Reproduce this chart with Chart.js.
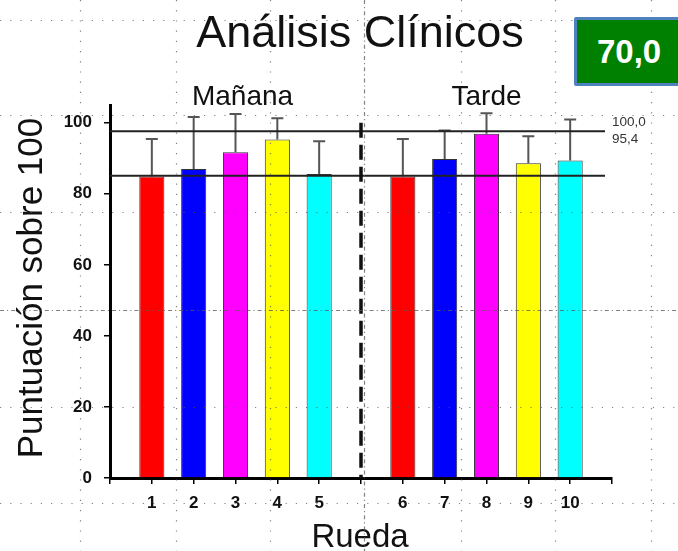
<!DOCTYPE html>
<html lang="es">
<head>
    <meta charset="UTF-8">
    <title>Análisis Clínicos</title>
    <script src="https://cdn.jsdelivr.net/npm/chart.js"></script>
    <style>
        body { margin: 0; background: #fff; }
        #wrap { position: relative; width: 678px; height: 551px; overflow: hidden; }
        #score {
            position: absolute; left: 574px; top: 17px; width: 110px; height: 63px;
            background: #008000; border: 3px solid #4f81bd; border-radius: 2px;
            color: #fff; font: bold 33px "Liberation Sans", Arial, sans-serif;
            line-height: 63px; padding-left: 20px; box-sizing: content-box;
        }
    </style>
</head>
<body>
<div id="wrap">
    <canvas id="chart" width="678" height="551"></canvas>
    <div id="score">70,0</div>
</div>
<script>
    // Ruedas 1-5 (mañana) y 6-10 (tarde)
    const ruedas = ['1', '2', '3', '4', '5', '6', '7', '8', '9', '10'];
    const mediaManana = [84.9, 87.0, 91.7, 95.3, 85.6];
    const mediaTarde = [84.9, 89.8, 96.9, 88.6, 89.4];
    const desvManana = [10.5, 14.6, 10.8, 6.0, 9.2];
    const desvTarde = [10.5, 8.0, 5.8, 7.6, 11.5];
    const colores = ['#ff0000', '#0000ff', '#ff00ff', '#ffff00', '#00ffff'];
    const lineasRef = [97.6, 85.1];
    const etiquetasRef = ['100,0', '95,4'];
    const valoresEtiquetasRef = [100.0, 95.4];
    const ticksY = [0, 20, 40, 60, 80, 100];

    const FONT = '"Liberation Sans", Arial, sans-serif';

    // empty slot at each end and one between the two sessions
    const labels = [''].concat(ruedas.slice(0, 5), [''], ruedas.slice(5), ['']);
    const medias = [null].concat(mediaManana, [null], mediaTarde, [null]);
    const desv = [null].concat(desvManana, [null], desvTarde, [null]);
    const fondo = [null].concat(colores, [null], colores, [null]);
    const SEP = 6; // index of the separator slot

    const extras = {
        id: 'extras',
        afterDatasetsDraw(chart) {
            const ctx = chart.ctx;
            const x = chart.scales.x, y = chart.scales.y;
            const area = chart.chartArea;
            const meta = chart.getDatasetMeta(0);
            ctx.save();

            // error bars
            ctx.strokeStyle = '#555';
            ctx.lineWidth = 2;
            meta.data.forEach((bar, i) => {
                if (medias[i] == null) return;
                const y0 = y.getPixelForValue(medias[i]);
                const y1 = y.getPixelForValue(medias[i] + desv[i]);
                ctx.beginPath();
                ctx.moveTo(bar.x, y0);
                ctx.lineTo(bar.x, y1);
                ctx.moveTo(bar.x - 6, y1);
                ctx.lineTo(bar.x + 6, y1);
                ctx.stroke();
            });

            // reference lines
            ctx.strokeStyle = '#222';
            ctx.lineWidth = 2;
            lineasRef.forEach(v => {
                const py = y.getPixelForValue(v);
                ctx.beginPath();
                ctx.moveTo(area.left, py);
                ctx.lineTo(area.right - 7, py);
                ctx.stroke();
            });

            // separator between sessions
            const sx = x.getPixelForValue(SEP);
            ctx.strokeStyle = '#111';
            ctx.lineWidth = 3.5;
            ctx.setLineDash([15, 7]);
            ctx.beginPath();
            ctx.moveTo(sx, y.getPixelForValue(100));
            ctx.lineTo(sx, y.getPixelForValue(0));
            ctx.stroke();
            ctx.setLineDash([]);

            // reference values
            ctx.fillStyle = '#333';
            ctx.font = '13.5px ' + FONT;
            ctx.textAlign = 'left';
            ctx.textBaseline = 'middle';
            etiquetasRef.forEach((t, i) => {
                ctx.fillText(t, area.right, y.getPixelForValue(valoresEtiquetasRef[i]));
            });
            ctx.restore();
        },
        afterDraw(chart) {
            const ctx = chart.ctx;
            const x = chart.scales.x;
            ctx.save();
            ctx.fillStyle = '#111';
            ctx.textAlign = 'center';
            ctx.textBaseline = 'alphabetic';

            ctx.font = '45px ' + FONT;
            ctx.fillText('Análisis Clínicos', 360, 47);

            ctx.font = '28px ' + FONT;
            ctx.fillText('Mañana', x.getPixelForValue(3) + 7, 105);
            ctx.fillText('Tarde', x.getPixelForValue(9), 105);

            ctx.font = '33px ' + FONT;
            ctx.fillText('Rueda', 360, 547);

            ctx.save();
            ctx.translate(42, 288);
            ctx.rotate(-Math.PI / 2);
            ctx.font = '35px ' + FONT;
            ctx.fillText('Puntuación sobre 100', 0, 0);
            ctx.restore();

            // faint slide guides
            ctx.strokeStyle = 'rgba(90, 90, 90, 0.75)';
            ctx.lineWidth = 1.2;
            const guia = (x0, y0, x1, y1, dash) => {
                ctx.setLineDash(dash);
                ctx.beginPath();
                ctx.moveTo(x0, y0);
                ctx.lineTo(x1, y1);
                ctx.stroke();
            };
            [80, 176, 270, 461, 555, 651].forEach(gx => guia(gx + 0.5, 0, gx + 0.5, 551, [1.2, 9]));
            [20, 115, 212, 407, 503].forEach(gy => guia(0, gy + 0.5, 678, gy + 0.5, [1.2, 9]));
            guia(364.5, 0, 364.5, 551, [4, 3, 1.2, 3]);
            guia(0, 310.5, 678, 310.5, [4, 3, 1.2, 3]);
            ctx.restore();
        }
    };

    new Chart(document.getElementById('chart'), {
        type: 'bar',
        data: {
            labels: labels,
            datasets: [{
                data: medias,
                backgroundColor: fondo,
                borderColor: '#333',
                borderWidth: 1,
                barPercentage: 0.6,
                categoryPercentage: 1
            }]
        },
        options: {
            responsive: false,
            animation: false,
            layout: { padding: { top: 105, right: 66, left: 0, bottom: 0 } },
            plugins: { legend: { display: false }, tooltip: { enabled: false } },
            scales: {
                x: {
                    offset: false,
                    grid: { offset: false, drawOnChartArea: false, tickLength: 6, color: '#000', lineWidth: 1.5 },
                    border: { color: '#000', width: 3 },
                    ticks: { autoSkip: false, maxRotation: 0, padding: 9, color: '#111', font: { family: FONT, size: 17, weight: 'bold' } },
                    afterFit: s => { s.height = 73; }
                },
                y: {
                    min: 0,
                    max: 105,
                    grid: { drawOnChartArea: false, tickLength: 6, color: '#000', lineWidth: 1.5 },
                    border: { color: '#000', width: 3 },
                    ticks: { padding: 12, color: '#111', font: { family: FONT, size: 17, weight: 'bold' } },
                    afterBuildTicks: s => { s.ticks = ticksY.map(v => ({ value: v })); },
                    afterFit: s => { s.width = 110; }
                }
            }
        },
        plugins: [extras]
    });
</script>
</body>
</html>
